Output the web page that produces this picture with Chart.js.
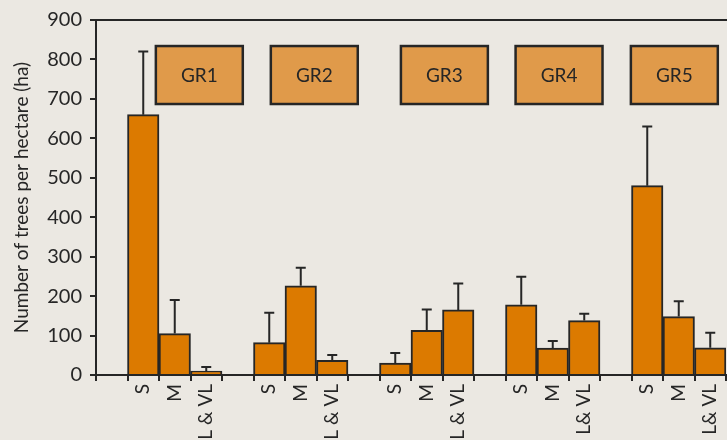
<!DOCTYPE html>
<html>
<head>
<meta charset="utf-8">
<script src="https://cdn.jsdelivr.net/npm/chart.js@4"></script>
<style>
  html, body { margin: 0; padding: 0; background: #ebe8e2; overflow: hidden; }
  #wrap { width: 727px; height: 440px; }
</style>
</head>
<body>
<div id="wrap"><canvas id="c" width="727" height="440"></canvas></div>
<script>
// Growth regions and tree size classes
const groups = ['GR1', 'GR2', 'GR3', 'GR4', 'GR5'];
const sizeLabels = [
  ['S', 'M', 'L & VL'],
  ['S', 'M', 'L & VL'],
  ['S', 'M', 'L & VL'],
  ['S', 'M', 'L& VL'],
  ['S', 'M', 'L& VL']
];
// Mean number of trees per hectare, per region and size class
const meanTrees = [
  [660, 105, 10],
  [82, 226, 37],
  [30, 113, 165],
  [178, 68, 138],
  [480, 148, 69]
];
// Standard deviation (upper whisker length)
const sdTrees = [
  [160, 85, 10],
  [76, 46, 14],
  [26, 53, 67],
  [71, 18, 17],
  [150, 39, 38]
];
const yTicks = [0, 100, 200, 300, 400, 500, 600, 700, 800, 900];

// One empty slot before each region, then its three size classes
const labels = [], values = [], errors = [];
groups.forEach((g, gi) => {
  labels.push(''); values.push(null); errors.push(null);
  sizeLabels[gi].forEach((lab, k) => {
    labels.push(lab);
    values.push(meanTrees[gi][k]);
    errors.push(sdTrees[gi][k]);
  });
});

const INK = '#262626';
const FONT = 'Lato, "Open Sans", sans-serif';

// Region tag boxes: left edge in category units, width in category units, and value range
const tagLayout = { left: [1.40, 5.05, 9.18, 12.82, 16.48], width: 2.76, yLow: 687, yHigh: 834 };

const decorations = {
  id: 'decorations',
  afterDatasetsDraw(chart) {
    const { ctx, chartArea, scales: { x, y } } = chart;
    ctx.save();
    // top frame line
    ctx.strokeStyle = INK;
    ctx.lineWidth = 2;
    ctx.beginPath();
    ctx.moveTo(chartArea.left - 1, chartArea.top);
    ctx.lineTo(chart.width, chartArea.top);
    ctx.stroke();

    // error whiskers
    const meta = chart.getDatasetMeta(0);
    meta.data.forEach((bar, i) => {
      if (values[i] == null) return;
      const cx = bar.x;
      const yTop = y.getPixelForValue(values[i]);
      const yErr = y.getPixelForValue(values[i] + errors[i]);
      ctx.beginPath();
      ctx.moveTo(cx, yTop);
      ctx.lineTo(cx, yErr);
      ctx.moveTo(cx - 5, yErr);
      ctx.lineTo(cx + 5, yErr);
      ctx.stroke();
    });

    // region tags
    ctx.font = '19px ' + FONT;
    ctx.textAlign = 'center';
    ctx.textBaseline = 'middle';
    groups.forEach((g, gi) => {
      const l = x.getPixelForValue(tagLayout.left[gi]);
      const r = x.getPixelForValue(tagLayout.left[gi] + tagLayout.width);
      const t = y.getPixelForValue(tagLayout.yHigh);
      const b = y.getPixelForValue(tagLayout.yLow);
      ctx.fillStyle = '#e09a4a';
      ctx.fillRect(l, t, r - l, b - t);
      ctx.lineWidth = 2.5;
      ctx.strokeStyle = INK;
      ctx.strokeRect(l, t, r - l, b - t);
      ctx.fillStyle = INK;
      ctx.fillText(g, (l + r) / 2, (t + b) / 2 + 1);
    });
    ctx.restore();
  }
};

new Chart(document.getElementById('c'), {
  type: 'bar',
  data: {
    labels: labels,
    datasets: [{
      data: values,
      backgroundColor: '#dc7a00',
      borderColor: INK,
      borderWidth: 2,
      categoryPercentage: 1,
      barPercentage: 1
    }]
  },
  options: {
    responsive: false,
    animation: false,
    devicePixelRatio: 1,
    layout: { padding: { top: 20, right: 1, bottom: 0, left: 0 } },
    plugins: { legend: { display: false }, tooltip: { enabled: false } },
    scales: {
      x: {
        offset: true,
        grid: { offset: true, drawOnChartArea: false, drawTicks: true, tickLength: 6, color: INK, lineWidth: 2 },
        border: { display: true, color: INK, width: 2 },
        ticks: {
          autoSkip: false, minRotation: 90, maxRotation: 90, padding: 3,
          color: INK, font: { family: FONT, size: 19 }
        },
        afterFit(s) { s.height = 65; s.paddingLeft = 0; s.paddingRight = 0; }
      },
      y: {
        min: 0, max: 900,
        afterBuildTicks(s) { s.ticks = yTicks.map(v => ({ value: v })); },
        grid: { drawOnChartArea: false, drawTicks: true, tickLength: 6, color: INK, lineWidth: 2 },
        border: { display: true, color: INK, width: 2 },
        ticks: { padding: 8, color: INK, font: { family: FONT, size: 20 } },
        title: {
          display: true, text: 'Number of trees per hectare (ha)',
          color: INK, font: { family: FONT, size: 19 }, padding: { top: 10, bottom: 0 }
        },
        afterFit(s) { s.width = 96; }
      }
    }
  },
  plugins: [decorations]
});
</script>
</body>
</html>
